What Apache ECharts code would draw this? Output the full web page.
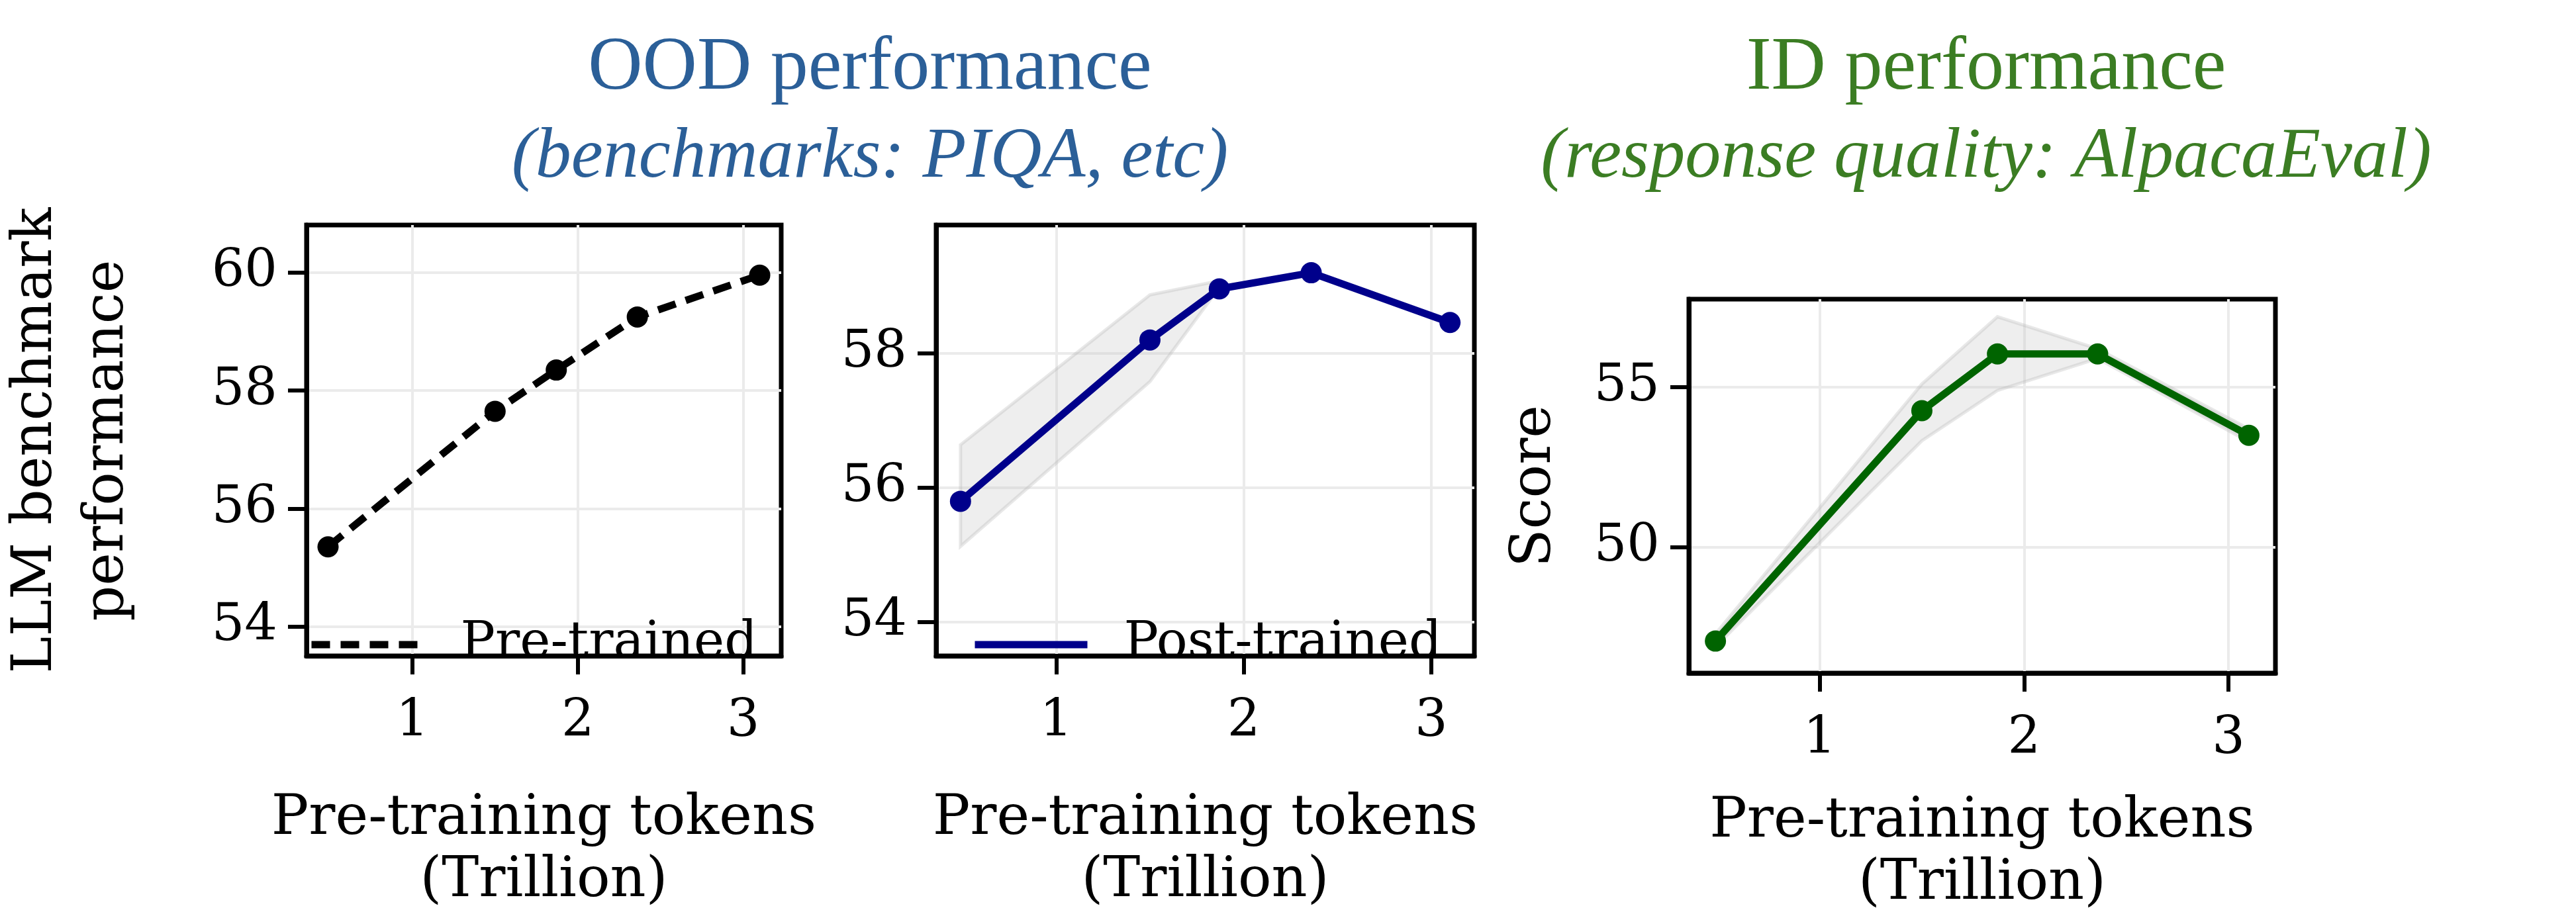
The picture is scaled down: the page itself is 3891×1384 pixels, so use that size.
<!DOCTYPE html>
<html>
<head>
<meta charset="UTF-8">
<script src="https://cdn.jsdelivr.net/npm/echarts/dist/echarts.min.js"></script>
<style>
  body { margin: 0; background: #fff; }
  #main { width: 3891px; height: 1384px; }
</style>
</head>
<body>
<div id="main"></div>
<script>
// pre-training tokens (trillion)
var tokens = [0.49, 1.5, 1.87, 2.36, 3.1];
// OOD benchmark performance
var preTrained = [55.35, 57.65, 58.35, 59.25, 59.96];
var postTrained = [55.8, 58.2, 58.96, 59.2, 58.46];
var postLow = [55.13, 57.58, 58.98];
var postHigh = [56.64, 58.87, 59.08];
// ID performance (AlpacaEval score)
var idScore = [47.08, 54.27, 56.04, 56.04, 53.5];
var idLow = [46.9, 53.33, 54.9, 55.9, 53.3];
var idHigh = [47.3, 55.1, 57.2, 56.2, 53.7];

var xTicks = [1, 2, 3];
var yTicksOod = [54, 56, 58, 60];
var yTicksId = [50, 55];

function pairs(xs, ys) {
  return ys.map(function (y, i) { return [xs[i], y]; });
}

var chart = echarts.init(document.getElementById('main'));
var font = 'DejaVu Serif';
var gridLine = { show: true, lineStyle: { color: '#ebebeb', width: 4 } };
var axisLine = { show: true, onZero: false, lineStyle: { color: '#000', width: 7 } };

function xAxis(idx, gap) {
  return {
    type: 'value', gridIndex: idx, min: 0.36, max: 3.23,
    name: 'Pre-training tokens\n(Trillion)', nameLocation: 'middle', nameGap: gap,
    nameTextStyle: { fontFamily: font, fontSize: 84, color: '#000', lineHeight: 94 },
    axisLine: axisLine,
    axisTick: { show: true, length: 28, lineStyle: { width: 6, color: '#000' }, customValues: xTicks },
    axisLabel: { fontFamily: font, fontSize: 78, color: '#000', margin: 62, customValues: xTicks },
    splitLine: gridLine
  };
}
function yAxis(idx, min, max, ticks, name, gap) {
  return {
    type: 'value', gridIndex: idx, min: min, max: max,
    name: name, nameLocation: 'middle', nameGap: gap, nameRotate: 90,
    nameTextStyle: { fontFamily: font, fontSize: 84, color: '#000', lineHeight: 108 },
    axisLine: axisLine,
    axisTick: { show: true, length: 28, lineStyle: { width: 6, color: '#000' }, customValues: ticks },
    axisLabel: { fontFamily: font, fontSize: 78, color: '#000', margin: 44, customValues: ticks },
    splitLine: gridLine
  };
}
function box(left, top, width, height) {
  return { left: left, top: top, width: width, height: height, show: true,
           borderColor: '#000', borderWidth: 7, backgroundColor: 'transparent' };
}
function band(idx, lo, hi) {
  return {
    type: 'custom', xAxisIndex: idx, yAxisIndex: idx, silent: true, z: 1,
    data: [[tokens[0], lo[0]]],
    renderItem: function (params, api) {
      var pts = [];
      hi.forEach(function (v, i) { pts.push(api.coord([tokens[i], v])); });
      for (var i = lo.length - 1; i >= 0; i--) pts.push(api.coord([tokens[i], lo[i]]));
      return { type: 'polygon', shape: { points: pts },
               style: { fill: 'rgba(200,200,200,0.3)', stroke: 'rgba(180,180,180,0.3)', lineWidth: 5 } };
    }
  };
}
function main(idx, name, ys, color, dash) {
  return { type: 'line', name: name, xAxisIndex: idx, yAxisIndex: idx, data: pairs(tokens, ys),
    symbol: 'circle', symbolSize: 32, z: 5,
    itemStyle: { color: color },
    lineStyle: { color: color, width: 11, type: dash ? [28, 16] : 'solid' } };
}
function legend(name, left, dash) {
  return { data: [name], left: left, top: 930, itemWidth: 170, itemHeight: 40, itemGap: 0,
    itemStyle: { opacity: 0 },
    lineStyle: { width: 11, type: dash ? [28, 16] : 'solid' },
    textStyle: { fontFamily: font, fontSize: 78, color: '#000', padding: [0, 0, 0, 50] } };
}

var option = {
  animation: false,
  title: [
    { text: 'OOD performance', left: 1309, top: 42, textAlign: 'center',
      textStyle: { fontFamily: 'Liberation Serif', fontSize: 114, fontWeight: 'normal', color: '#2b5f98' } },
    { text: '(benchmarks: PIQA, etc)', left: 1309, top: 180, textAlign: 'center',
      textStyle: { fontFamily: 'Liberation Serif', fontSize: 108, fontStyle: 'italic', fontWeight: 'normal', color: '#2b5f98' } },
    { text: 'ID performance', left: 2995, top: 42, textAlign: 'center',
      textStyle: { fontFamily: 'Liberation Serif', fontSize: 114, fontWeight: 'normal', color: '#3b7d23' } },
    { text: '(response quality: AlpacaEval)', left: 2995, top: 180, textAlign: 'center',
      textStyle: { fontFamily: 'Liberation Serif', fontSize: 108, fontStyle: 'italic', fontWeight: 'normal', color: '#3b7d23' } }
  ],
  legend: [legend('Pre-trained', 460, true), legend('Post-trained', 1462, false)],
  grid: [
    box(392, 340, 788, 708),
    box(1414, 340, 813, 708),
    box(2551, 452, 886, 565)
  ],
  xAxis: [xAxis(0, 200), xAxis(1, 200), xAxis(2, 178)],
  yAxis: [
    yAxis(0, 53.5, 60.81, yTicksOod, 'LLM benchmark\nperformance', 246),
    yAxis(1, 53.5, 59.91, yTicksOod, '', 0),
    yAxis(2, 46.08, 57.75, yTicksId, 'Score', 178)
  ],
  series: [
    main(0, 'Pre-trained', preTrained, '#000', true),
    band(1, postLow, postHigh),
    main(1, 'Post-trained', postTrained, '#00008b', false),
    band(2, idLow, idHigh),
    main(2, 'ID', idScore, '#006400', false)
  ]
};
chart.setOption(option);
</script>
</body>
</html>
